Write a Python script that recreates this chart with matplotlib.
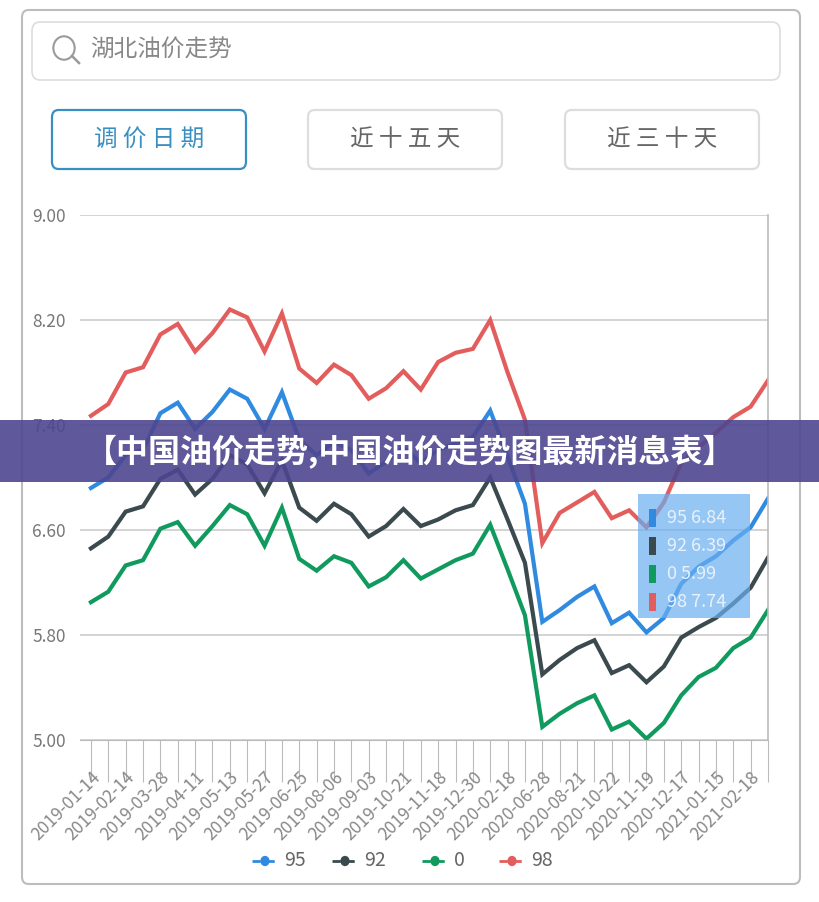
import matplotlib
matplotlib.use("Agg")
import matplotlib.pyplot as plt
from matplotlib.patches import FancyBboxPatch, Rectangle, Circle
from matplotlib.lines import Line2D

plt.rcParams['font.family'] = ['Noto Sans CJK SC', 'DejaVu Sans']

date_labels = ["2019-01-14", "2019-02-14", "2019-03-28", "2019-04-11", "2019-05-13",
               "2019-05-27", "2019-06-25", "2019-08-06", "2019-09-03", "2019-10-21",
               "2019-11-18", "2019-12-30", "2020-02-18", "2020-06-28", "2020-08-21",
               "2020-10-22", "2020-11-19", "2020-12-17", "2021-01-15", "2021-02-18"]

p98 = [7.47, 7.56, 7.80, 7.84, 8.09, 8.17, 7.96, 8.10, 8.28, 8.22, 7.96, 8.25, 7.83, 7.72,
       7.86, 7.78, 7.60, 7.68, 7.81, 7.67, 7.88, 7.95, 7.98, 8.20, 7.80, 7.44, 6.50, 6.73,
       6.81, 6.89, 6.69, 6.75, 6.62, 6.81, 7.11, 7.23, 7.34, 7.46, 7.54, 7.74]
p95 = [6.92, 7.00, 7.17, 7.21, 7.49, 7.57, 7.37, 7.50, 7.67, 7.60, 7.37, 7.65, 7.29, 7.17,
       7.27, 7.21, 7.03, 7.12, 7.23, 7.11, 7.21, 7.26, 7.31, 7.51, 7.16, 6.80, 5.90, 5.99,
       6.09, 6.17, 5.89, 5.97, 5.82, 5.93, 6.19, 6.32, 6.40, 6.52, 6.62, 6.84]
p92 = [6.46, 6.55, 6.74, 6.78, 6.99, 7.06, 6.87, 6.99, 7.17, 7.10, 6.88, 7.13, 6.77, 6.67,
       6.80, 6.72, 6.55, 6.63, 6.76, 6.63, 6.68, 6.75, 6.79, 7.00, 6.68, 6.35, 5.50, 5.61,
       5.70, 5.76, 5.51, 5.57, 5.44, 5.56, 5.78, 5.86, 5.93, 6.04, 6.16, 6.39]
p0 = [6.05, 6.13, 6.33, 6.37, 6.61, 6.66, 6.48, 6.63, 6.79, 6.72, 6.48, 6.77, 6.38, 6.29,
      6.40, 6.35, 6.17, 6.24, 6.37, 6.23, 6.30, 6.37, 6.42, 6.64, 6.30, 5.95, 5.10, 5.20,
      5.28, 5.34, 5.08, 5.14, 5.01, 5.13, 5.34, 5.48, 5.55, 5.70, 5.78, 5.99]
yticks = [5.00, 5.80, 6.60, 7.40, 8.20, 9.00]

series = [("95", p95, "#2f8ae0"), ("92", p92, "#3a4a4f"), ("0", p0, "#119a5e"), ("98", p98, "#e35d5d")]

W, H = 820, 902
fig = plt.figure(figsize=(8.2, 9.02), dpi=100)
fig.patch.set_facecolor("white")

def fx(x): return x / W
def fy(y): return 1 - y / H

fig.patches.append(FancyBboxPatch((fx(22), fy(884)), fx(778), 874 / H,
                                  boxstyle="round,pad=0,rounding_size=0.008",
                                  transform=fig.transFigure, fc="white", ec="#bdbdbd", lw=1.5, zorder=-10))
fig.patches.append(FancyBboxPatch((fx(32), fy(80)), fx(748), 58 / H,
                                  boxstyle="round,pad=0,rounding_size=0.01",
                                  transform=fig.transFigure, fc="white", ec="#dddddd", lw=1.2, zorder=-5))
fig.patches.append(Circle((fx(64), fy(48)), 0.013, transform=fig.transFigure, fc="none", ec="#9a9a9a", lw=1.5))
fig.lines.append(Line2D([fx(72), fx(79)], [fy(56), fy(63)], transform=fig.transFigure, color="#9a9a9a", lw=1.8))
fig.text(fx(90), fy(50), "湖北油价走势", fontsize=17, color="#888888", va="center", ha="left")

buttons = [(52, "调 价 日 期", "#3a8fc2", "#3a8fc2"), (308, "近 十 五 天", "#dddddd", "#666666"),
           (565, "近 三 十 天", "#dddddd", "#666666")]
for bx, txt, ec, tc in buttons:
    fig.patches.append(FancyBboxPatch((fx(bx), fy(169)), fx(194), 59 / H,
                                      boxstyle="round,pad=0,rounding_size=0.008",
                                      transform=fig.transFigure, fc="white", ec=ec, lw=1.6, zorder=-5))
    fig.text(fx(bx + 97), fy(139), txt, fontsize=17, color=tc, ha="center", va="center")

ax = fig.add_axes([fx(80), fy(740), fx(688), 525 / H])
ax.set_facecolor("none")
x = list(range(len(p98)))
for name, vals, c in series:
    ax.plot(x, vals, color=c, lw=3, solid_joinstyle="miter")
ax.set_xlim(-0.63, 39.0)
ax.set_ylim(5.0, 9.0)
ax.set_yticks(yticks)
ax.set_yticklabels([f"{v:.2f}" for v in yticks], color="#777777", fontsize=12.5)
ax.yaxis.grid(True, color="#cccccc", lw=1.2)
ax.set_axisbelow(True)
for s in ["top", "left"]:
    ax.spines[s].set_visible(False)
ax.spines["bottom"].set_color("#bbbbbb")
ax.spines["right"].set_color("#bbbbbb")
ax.spines["right"].set_linewidth(1.2)
ax.tick_params(axis="y", length=0, pad=10)
ax.set_xticks(x)
ax.set_xticklabels([date_labels[i // 2] if i % 2 == 0 else "" for i in x],
                   rotation=45, ha="right", va="top", rotation_mode="anchor",
                   color="#888888", fontsize=12.5)
ax.tick_params(axis="x", length=30, color="#bbbbbb", direction="out", pad=-10)

fig.patches.append(Rectangle((fx(638), fy(618)), fx(112), 124 / H, transform=fig.transFigure,
                             fc="#6aaef0", ec="none", alpha=0.7, zorder=5))
tvals = [("95", p95[-1], "#2f8ae0"), ("92", p92[-1], "#3a4a4f"), ("0", p0[-1], "#119a5e"), ("98", p98[-1], "#e35d5d")]
for k, (n, v, c) in enumerate(tvals):
    yy = 518 + k * 28
    fig.patches.append(Rectangle((fx(649), fy(yy + 9)), fx(7), 18 / H, transform=fig.transFigure, fc=c, ec="none", zorder=6))
    fig.text(fx(667), fy(yy), f"{n} {v:.2f}", fontsize=13, color="#e8f2fc", va="center", ha="left", zorder=6)

lx = 252
for n, vals, c in series:
    fig.lines.append(Line2D([fx(lx), fx(lx + 26)], [fy(861)] * 2, transform=fig.transFigure, color=c, lw=2, ls=(0, (3, 2))))
    fig.patches.append(Circle((fx(lx + 13), fy(861)), 0.0065, transform=fig.transFigure, fc=c, ec="white", lw=1))
    fig.text(fx(lx + 32), fy(861), n, fontsize=14, color="#666666", va="center", ha="left")
    lx += 90 if n != "0" else 77
    if n == "95": lx -= 10

fig.patches.append(Rectangle((0, fy(482)), 1, 62 / H, transform=fig.transFigure, fc="#4e4690", ec="none", alpha=0.9, zorder=8))
fig.text(0.5, fy(452), "【中国油价走势,中国油价走势图最新消息表】", fontsize=23, color="white",
         fontweight="bold", ha="center", va="center", zorder=9)

fig.savefig("out.png", dpi=100)
